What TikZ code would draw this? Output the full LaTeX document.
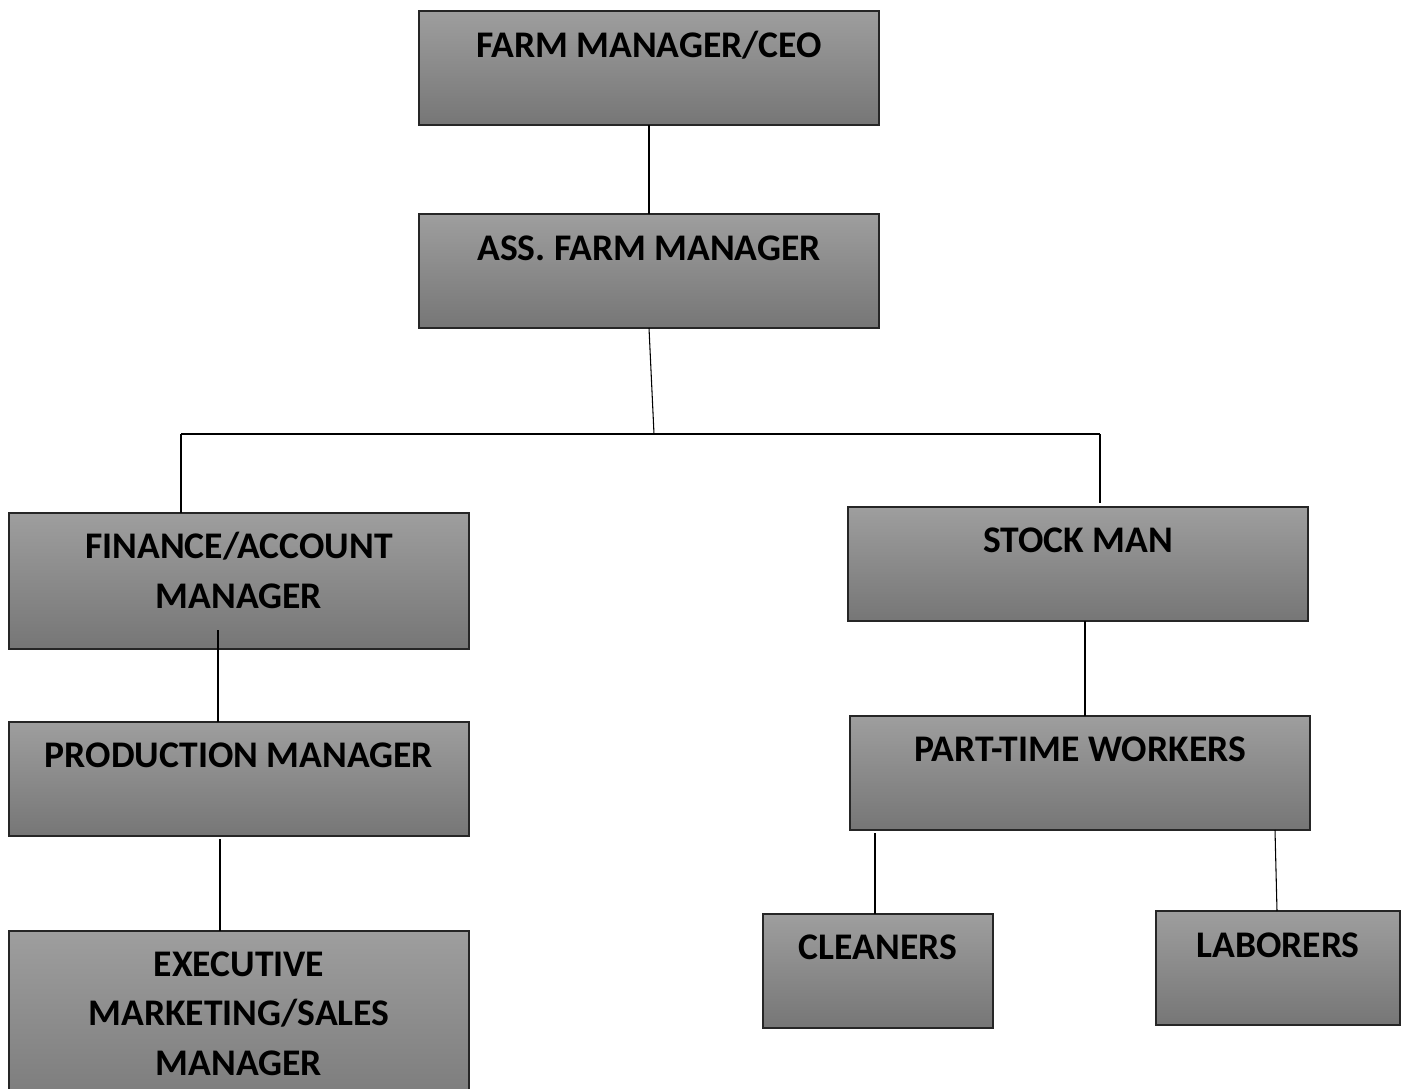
\documentclass[tikz,border=0pt]{standalone}
\usepackage{fontspec}
\setmainfont{Carlito}
\begin{document}
\begin{tikzpicture}[x=0.75pt,y=-0.75pt,
  box/.style={draw=black!85, line width=1pt, rectangle, inner sep=0pt, outer sep=0pt,
    top color={rgb,255:red,158;green,158;blue,158},
    bottom color={rgb,255:red,118;green,118;blue,118}},
  bx/.style 2 args={box, minimum width=#1*0.75pt, minimum height=#2*0.75pt, anchor=north west},
  lbl/.style={font=\fontsize{28.2}{37.1}\selectfont\bfseries, align=center, anchor=base, inner sep=0pt},
  conn/.style={draw=black, line width=0.8pt}]
\useasboundingbox (0,0) rectangle (1407,1089);
% boxes
\node[bx={460}{114}] (ceo)   at (419,11)  {};
\node[bx={460}{114}] (ass)   at (419,214) {};
\node[bx={460}{136}] (fin)   at (9,513)   {};
\node[bx={460}{114}] (prod)  at (9,722)   {};
\node[bx={460}{200}] (exec)  at (9,931)   {};
\node[bx={460}{114}] (stock) at (848,507) {};
\node[bx={460}{114}] (part)  at (850,716) {};
\node[bx={230}{114}] (clean) at (763,914) {};
\node[bx={244}{114}] (lab)   at (1156,911) {};
% labels (anchor base = baseline of the last line)
\node[lbl] (ceot)   at (649,57)   {FARM MANAGER/CEO};
\node[lbl] (asst)   at (649,260)  {ASS. FARM MANAGER};
\node[lbl] (fint)   at (239,608)  {FINANCE/ACCOUNT\\MANAGER};
\node[lbl] (prodt)  at (239,767)  {PRODUCTION MANAGER};
\node[lbl] (exect)  at (239,1075) {EXECUTIVE\\MARKETING/SALES\\MANAGER};
\node[lbl] (stockt) at (1078,552) {STOCK MAN};
\node[lbl] (partt)  at (1080,761) {PART-TIME WORKERS};
\node[lbl] (cleant) at (878,959)  {CLEANERS};
\node[lbl] (labt)   at (1278,957) {LABORERS};
% connectors
\coordinate (bus)  at (654,434);
\coordinate (busL) at (181,434);
\coordinate (busR) at (1100,434);
\coordinate (stubR) at (1100,503);
\coordinate (f1) at (218,630);
\coordinate (p1) at (220,839);
\coordinate (s1) at (1085,621);
\coordinate (c1) at (875,833);
\coordinate (l1) at (1275,830);
\draw[conn] (ceo.south) -- (ass.north);
\draw[conn] (ass.south) -- (bus);
\draw[conn] (busL) -- (busR);
\draw[conn] (busL) -- (busL |- fin.north);
\draw[conn] (busR) -- (stubR);
\draw[conn] (f1) -- (f1 |- prod.north);
\draw[conn] (p1) -- (p1 |- exec.north);
\draw[conn] (s1) -- (s1 |- part.north);
\draw[conn] (c1) -- (c1 |- clean.north);
\draw[conn] (l1) -- (1277,911);
\end{tikzpicture}
\end{document}
